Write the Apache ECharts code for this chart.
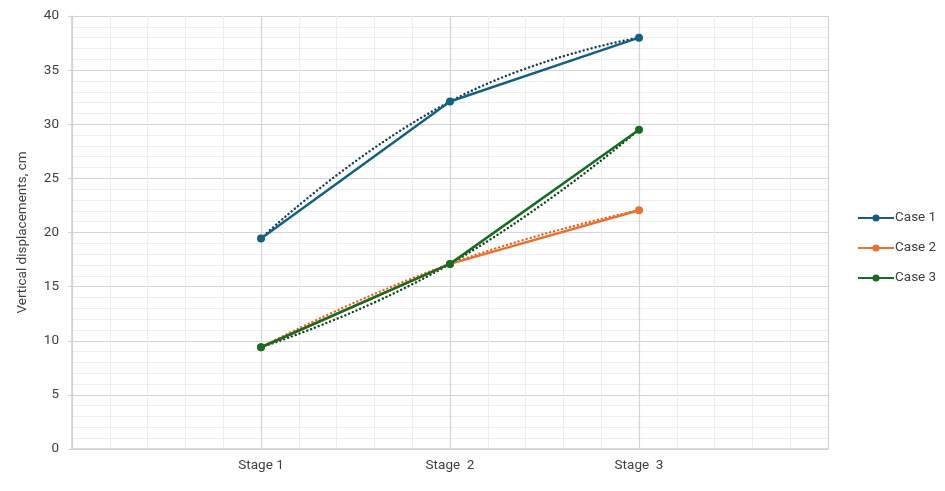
<!DOCTYPE html>
<html>
<head>
<meta charset="utf-8">
<script src="https://cdn.jsdelivr.net/npm/echarts@6/dist/echarts.min.js"></script>
<style>html,body{margin:0;padding:0;background:#fff}#c{width:945px;height:491px}</style>
</head>
<body>
<div id="c"></div>
<script>
const categories = ['Stage 1', 'Stage  2', 'Stage  3'];
const seriesNames = ['Case 1', 'Case 2', 'Case 3'];
const case1 = [19.45, 32.1, 38.0];
const case2 = [9.4, 17.1, 22.05];
const case3 = [9.4, 17.1, 29.5];
const yTicks = [0, 5, 10, 15, 20, 25, 30, 35, 40];

const colors = ['#156082', '#E97132', '#196B24'];
const trendColors = ['#143f5c', '#e0672a', '#12461c'];
const values = [case1, case2, case3];
const FONT = 'Roboto, "Liberation Sans", sans-serif';

function pts(arr) { return arr.map((v, i) => [i + 1, v]); }

const series = [];
values.forEach((arr, k) => {
  series.push({
    name: seriesNames[k] + ' trend',
    type: 'line',
    data: pts(arr),
    smooth: 0.5,
    showSymbol: false,
    symbol: 'none',
    lineStyle: { color: trendColors[k], width: 2.4, type: [0.1, 4], cap: 'round' },
    z: 2,
    silent: true
  });
});
values.forEach((arr, k) => {
  series.push({
    name: seriesNames[k],
    type: 'line',
    data: pts(arr),
    symbol: 'circle',
    symbolSize: 8,
    itemStyle: { color: colors[k] },
    lineStyle: { color: colors[k], width: 2.5 },
    z: 3 + k
  });
});

const chart = echarts.init(document.getElementById('c'), null, { renderer: 'canvas' });
chart.setOption({
  animation: false,
  backgroundColor: '#fff',
  grid: { left: 72, right: 117, top: 16, bottom: 42, containLabel: false },
  legend: {
    data: seriesNames,
    orient: 'vertical',
    left: 852,
    top: 206,
    itemWidth: 36,
    itemHeight: 9,
    itemGap: 16,
    textStyle: { fontFamily: FONT, fontSize: 13.5, color: '#404040', padding: [0, 0, 0, -4] }
  },
  xAxis: {
    type: 'value',
    min: 0,
    max: categories.length + 1,
    interval: 1,
    axisLine: { show: true, lineStyle: { color: '#d0d0d0', width: 1.5 } },
    axisTick: { show: false },
    axisLabel: {
      margin: 10,
      fontFamily: FONT, fontSize: 13.5, color: '#404040',
      formatter: v => (v >= 1 && v <= categories.length) ? categories[v - 1] : '',
      showMinLabel: true, showMaxLabel: true
    },
    splitLine: { show: true, lineStyle: { color: '#d4d4d4', width: 1.2 } },
    minorTick: { show: false, splitNumber: 5 },
    minorSplitLine: { show: true, lineStyle: { color: '#ededed', width: 1 } }
  },
  yAxis: {
    type: 'value',
    min: yTicks[0],
    max: yTicks[yTicks.length - 1],
    interval: yTicks[1] - yTicks[0],
    name: 'Vertical displacements, cm',
    nameLocation: 'middle',
    nameGap: 42,
    nameRotate: 90,
    nameTextStyle: { fontFamily: FONT, fontSize: 13.5, color: '#404040' },
    axisLine: { show: true, lineStyle: { color: '#d0d0d0', width: 1.5 } },
    axisTick: { show: true, length: 4, lineStyle: { color: '#d0d0d0' } },
    axisLabel: { margin: 13, fontFamily: FONT, fontSize: 13.5, color: '#404040' },
    splitLine: { show: true, lineStyle: { color: '#d4d4d4', width: 1.2 } },
    minorTick: { show: false, splitNumber: 5 },
    minorSplitLine: { show: true, lineStyle: { color: '#ededed', width: 1 } }
  },
  series: series
});
</script>
</body>
</html>
